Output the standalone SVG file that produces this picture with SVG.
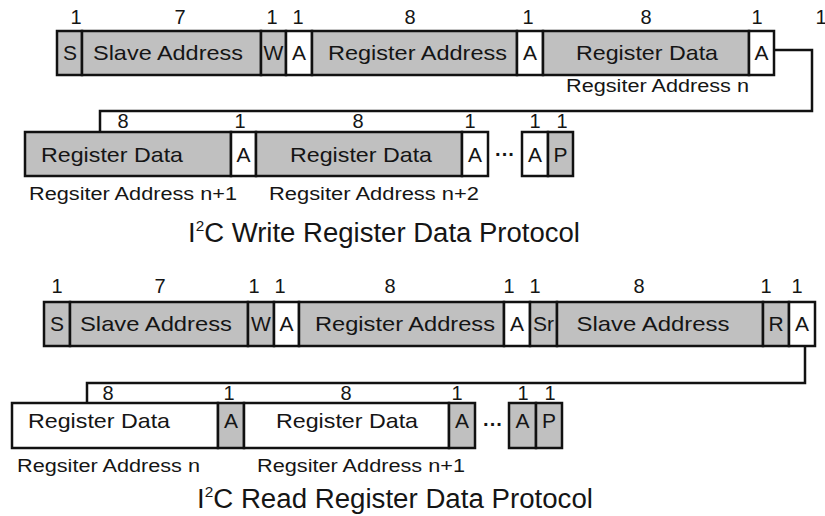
<svg xmlns="http://www.w3.org/2000/svg" width="825" height="516" viewBox="0 0 825 516">
<style>
  .g { fill: #c0c0c0; stroke: #111; stroke-width: 2.5; }
  .w { fill: #ffffff; stroke: #111; stroke-width: 2.5; }
  text { font-family: "Liberation Sans", Arial, sans-serif; fill: #151515; }
  .lb { font-size: 21px; text-anchor: middle; }
  .num { font-size: 20px; text-anchor: middle; }
  .sub { font-size: 18px; }
  .title { font-size: 27px; }
  .dots { font-size: 20px; font-weight: bold; text-anchor: middle; }
  .conn { fill: none; stroke: #111; stroke-width: 2.5; }
</style>
<rect x="0" y="0" width="825" height="516" fill="#ffffff"/>

<!-- Row 1: write -->
<g id="w1-S"><rect class="g" x="57" y="31" width="25" height="44"/><text class="lb" x="70" y="60">S</text><text class="num" x="76" y="24">1</text></g>
<g id="w1-slave"><rect class="g" x="82" y="31" width="179" height="44"/><text class="lb" x="168" y="60" textLength="150" lengthAdjust="spacingAndGlyphs">Slave Address</text><text class="num" x="180" y="24">7</text></g>
<g id="w1-W"><rect class="g" x="261" y="31" width="25" height="44"/><text class="lb" x="273.5" y="60">W</text><text class="num" x="272" y="24">1</text></g>
<g id="w1-A1"><rect class="w" x="286" y="31" width="26" height="44"/><text class="lb" x="299" y="60">A</text><text class="num" x="298" y="24">1</text></g>
<g id="w1-reg"><rect class="g" x="312" y="31" width="205" height="44"/><text class="lb" x="417.5" y="60" textLength="179" lengthAdjust="spacingAndGlyphs">Register Address</text><text class="num" x="410" y="24">8</text></g>
<g id="w1-A2"><rect class="w" x="517" y="31" width="26" height="44"/><text class="lb" x="530" y="60">A</text><text class="num" x="528" y="24">1</text></g>
<g id="w1-data"><rect class="g" x="543" y="31" width="206" height="44"/><text class="lb" x="647" y="60" textLength="142" lengthAdjust="spacingAndGlyphs">Register Data</text><text class="num" x="646" y="24">8</text><text class="sub" x="566" y="92" textLength="183" lengthAdjust="spacingAndGlyphs">Regsiter Address n</text></g>
<g id="w1-A3"><rect class="w" x="749" y="31" width="25" height="44"/><text class="lb" x="761.5" y="60">A</text><text class="num" x="757" y="24">1</text><text class="num" x="821" y="24">1</text></g>

<!-- Row 2: write continued -->
<g id="w2-data1"><rect class="g" x="25" y="132" width="206" height="44"/><text class="lb" x="112" y="162" textLength="142" lengthAdjust="spacingAndGlyphs">Register Data</text><text class="num" x="123" y="128">8</text><text class="sub" x="29" y="200" textLength="208" lengthAdjust="spacingAndGlyphs">Regsiter Address n+1</text></g>
<g id="w2-A1"><rect class="w" x="231" y="132" width="25" height="44"/><text class="lb" x="243.5" y="162">A</text><text class="num" x="240" y="128">1</text></g>
<g id="w2-data2"><rect class="g" x="256" y="132" width="206" height="44"/><text class="lb" x="361" y="162" textLength="142" lengthAdjust="spacingAndGlyphs">Register Data</text><text class="num" x="358" y="128">8</text><text class="sub" x="269" y="200" textLength="210" lengthAdjust="spacingAndGlyphs">Regsiter Address n+2</text></g>
<g id="w2-A2"><rect class="w" x="462" y="132" width="26" height="44"/><text class="lb" x="475" y="162">A</text><text class="num" x="470" y="128">1</text></g>
<g id="w2-dots"><text class="dots" x="505" y="161">···</text></g>
<g id="w2-A3"><rect class="w" x="522" y="132" width="26" height="44"/><text class="lb" x="535" y="162">A</text><text class="num" x="535" y="128">1</text></g>
<g id="w2-P"><rect class="g" x="548" y="132" width="25" height="44"/><text class="lb" x="560.5" y="162">P</text><text class="num" x="562" y="128">1</text></g>

<text class="title" x="188" y="242" textLength="392" lengthAdjust="spacingAndGlyphs">I<tspan font-size="15" dy="-11">2</tspan><tspan dy="11">C Write Register Data Protocol</tspan></text>

<!-- Row 3: read -->
<g id="r1-S"><rect class="g" x="44" y="302" width="26" height="44"/><text class="lb" x="57" y="331">S</text><text class="num" x="57" y="293">1</text></g>
<g id="r1-slave"><rect class="g" x="70" y="302" width="178" height="44"/><text class="lb" x="156" y="331" textLength="152" lengthAdjust="spacingAndGlyphs">Slave Address</text><text class="num" x="160" y="293">7</text></g>
<g id="r1-W"><rect class="g" x="248" y="302" width="26" height="44"/><text class="lb" x="261" y="331">W</text><text class="num" x="254" y="293">1</text></g>
<g id="r1-A1"><rect class="w" x="274" y="302" width="25" height="44"/><text class="lb" x="286.5" y="331">A</text><text class="num" x="280" y="293">1</text></g>
<g id="r1-reg"><rect class="g" x="299" y="302" width="205" height="44"/><text class="lb" x="405" y="331" textLength="180" lengthAdjust="spacingAndGlyphs">Register Address</text><text class="num" x="390" y="293">8</text></g>
<g id="r1-A2"><rect class="w" x="504" y="302" width="26" height="44"/><text class="lb" x="517" y="331">A</text><text class="num" x="509" y="293">1</text></g>
<g id="r1-Sr"><rect class="g" x="530" y="302" width="27" height="44"/><text class="lb" x="543.5" y="331">Sr</text><text class="num" x="535" y="293">1</text></g>
<g id="r1-slave2"><rect class="g" x="557" y="302" width="206" height="44"/><text class="lb" x="653" y="331" textLength="153" lengthAdjust="spacingAndGlyphs">Slave Address</text><text class="num" x="639" y="293">8</text></g>
<g id="r1-R"><rect class="g" x="763" y="302" width="26" height="44"/><text class="lb" x="776" y="331">R</text><text class="num" x="766" y="293">1</text></g>
<g id="r1-A3"><rect class="w" x="789" y="302" width="26" height="44"/><text class="lb" x="802" y="331">A</text><text class="num" x="797" y="293">1</text></g>

<!-- Row 4: read continued -->
<g id="r2-data1"><rect class="w" x="12" y="403" width="206" height="45"/><text class="lb" x="99" y="428" textLength="142" lengthAdjust="spacingAndGlyphs">Register Data</text><text class="num" x="108" y="400">8</text><text class="sub" x="17" y="472" textLength="183" lengthAdjust="spacingAndGlyphs">Regsiter Address n</text></g>
<g id="r2-A1"><rect class="g" x="218" y="403" width="26" height="45"/><text class="lb" x="231" y="428">A</text><text class="num" x="229" y="400">1</text></g>
<g id="r2-data2"><rect class="w" x="244" y="403" width="205" height="45"/><text class="lb" x="347" y="428" textLength="142" lengthAdjust="spacingAndGlyphs">Register Data</text><text class="num" x="346" y="400">8</text><text class="sub" x="257" y="472" textLength="208" lengthAdjust="spacingAndGlyphs">Regsiter Address n+1</text></g>
<g id="r2-A2"><rect class="g" x="449" y="403" width="26" height="45"/><text class="lb" x="462" y="428">A</text><text class="num" x="457" y="400">1</text></g>
<g id="r2-dots"><text class="dots" x="493" y="431">···</text></g>
<g id="r2-A3"><rect class="g" x="509" y="403" width="27" height="45"/><text class="lb" x="522.5" y="428">A</text><text class="num" x="523" y="400">1</text></g>
<g id="r2-P"><rect class="g" x="536" y="403" width="26" height="45"/><text class="lb" x="549" y="428">P</text><text class="num" x="550" y="400">1</text></g>

<text class="title" x="197" y="508" textLength="396" lengthAdjust="spacingAndGlyphs">I<tspan font-size="15" dy="-11">2</tspan><tspan dy="11">C Read Register Data Protocol</tspan></text>

<g id="connectors">
  <polyline class="conn" points="774,50 812,50 812,111 100,111 100,131"/>
  <polyline class="conn" points="805,346 805,383 87,383 87,402"/>
</g>
</svg>
